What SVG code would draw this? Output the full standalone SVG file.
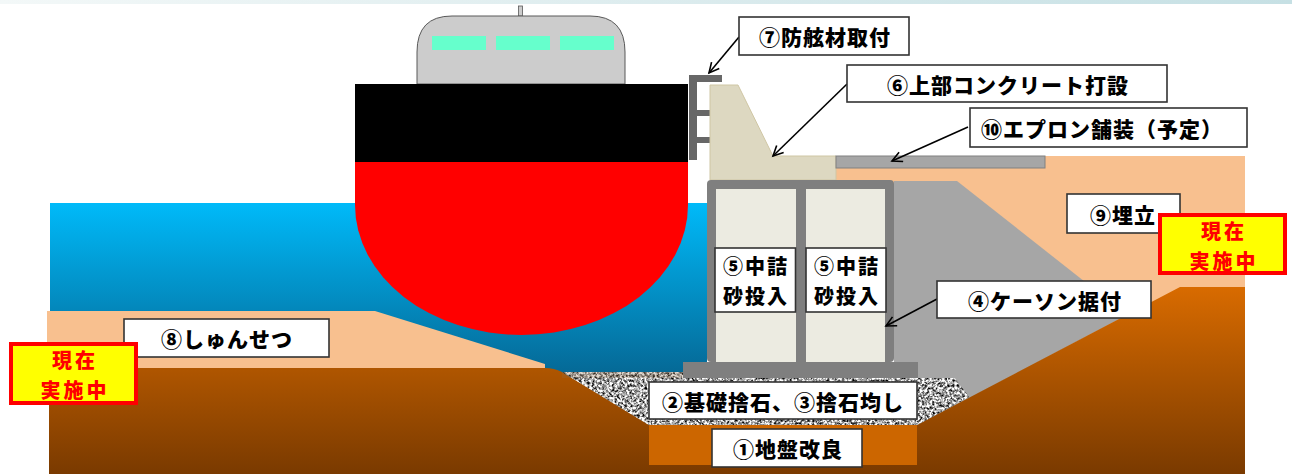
<svg xmlns="http://www.w3.org/2000/svg" width="1292" height="474" viewBox="0 0 1292 474">
<defs>
  <linearGradient id="band" x1="0" y1="0" x2="1" y2="0">
    <stop offset="0" stop-color="#f3f8f8"/>
    <stop offset="1" stop-color="#c6e0e4"/>
  </linearGradient>
  <linearGradient id="sea" gradientUnits="userSpaceOnUse" x1="0" y1="203" x2="0" y2="375">
    <stop offset="0" stop-color="#00baf9"/>
    <stop offset="1" stop-color="#056895"/>
  </linearGradient>
  <linearGradient id="earth" gradientUnits="userSpaceOnUse" x1="0" y1="287" x2="0" y2="474">
    <stop offset="0" stop-color="#d86b00"/>
    <stop offset="1" stop-color="#7a3a00"/>
  </linearGradient>
  <!-- speckled gravel texture for the rubble mound -->
  <filter id="grain" x="0" y="0" width="1" height="1" color-interpolation-filters="sRGB">
    <feTurbulence type="fractalNoise" baseFrequency="0.4" numOctaves="3" seed="7" result="n"/>
    <feColorMatrix in="n" type="matrix" values="2.3 0 0 0 -0.5  2.3 0 0 0 -0.5  2.3 0 0 0 -0.5  0 0 0 0 1" result="g"/>
    <feComposite in="g" in2="SourceGraphic" operator="in"/>
  </filter>
  <marker id="arr" markerUnits="userSpaceOnUse" markerWidth="14" markerHeight="14" refX="11" refY="6" orient="auto">
    <path d="M1,1 L11,6 L1,11" fill="none" stroke="#000" stroke-width="1.6"/>
  </marker>
  <style>
    .box{fill:#fff;stroke:#333;stroke-width:1.6}
    .lbl{font-family:"Noto Sans CJK JP","Noto Sans",sans-serif;font-weight:900;font-size:21px;letter-spacing:1px;fill:#000;text-anchor:middle;dominant-baseline:central}
    .lbl2{font-size:20px;letter-spacing:2px}
    .now{fill:#ff0;stroke:#f00;stroke-width:4}
    .nowt{font-family:"Noto Sans CJK JP","Noto Sans",sans-serif;font-weight:900;font-size:20px;letter-spacing:3px;fill:#f00;text-anchor:middle;dominant-baseline:central}
    .lead{stroke:#000;stroke-width:1.6;fill:none;marker-end:url(#arr)}
    .steel{fill:#7f7f7f}
    .cell{fill:#ecebe1}
    .fender{fill:#676767}
  </style>
</defs>

<rect x="0" y="0" width="1292" height="4" fill="url(#band)"/>

<!-- ground and water -->
<g id="sea-area">
  <rect x="50" y="203" width="657" height="175" fill="url(#sea)"/>
</g>
<g id="reclaim-fill">
  <rect x="836" y="156" width="409" height="180" fill="#f8c08f"/>
</g>
<g id="backfill">
  <path d="M894,181 H957 L1127,315 L917,426 H894 Z" fill="#a6a6a6"/>
</g>
<g id="dredge-layer">
  <path d="M47,311 H375 L545,364 V368 H47 Z" fill="#f8c08f"/>
</g>
<g id="seabed">
  <path d="M49,368 H545 Q554,368 562,372 L649,425 H917 L1180,287 H1245 V474 H49 Z" fill="url(#earth)"/>
</g>
<g id="rubble">
  <path d="M562,372 H683 V378 H955 L969,397 L917,425 H649 Z" fill="#b0b0b0" filter="url(#grain)"/>
  <rect x="562" y="372" width="121" height="6" fill="#8a6a48" opacity="0.25"/>
</g>
<g id="ground-improvement">
  <rect x="649" y="425" width="268" height="40" fill="#cc6600"/>
</g>

<!-- vessel -->
<g id="ship">
  <rect x="518.5" y="6" width="4" height="10" fill="#ccc" stroke="#595959" stroke-width="0.8"/>
  <path d="M417,84 V52 Q417,16 452,16 H590 Q625,16 625,52 V84 Z" fill="#ccc" stroke="#595959" stroke-width="1"/>
  <rect x="432" y="36" width="54" height="14" fill="#66ffcc"/>
  <rect x="496" y="36" width="54" height="14" fill="#66ffcc"/>
  <rect x="560" y="36" width="54" height="14" fill="#66ffcc"/>
  <rect x="355" y="84" width="333" height="78" fill="#000"/>
  <path d="M355,162 H688 V205 A166.5,130 0 0 1 355,205 Z" fill="#f00"/>
</g>

<!-- quay wall -->
<g id="fender">
  <rect class="fender" x="689" y="75" width="8" height="85"/>
  <rect class="fender" x="689" y="75" width="33" height="7"/>
  <rect class="fender" x="697" y="110" width="14" height="6"/>
  <rect class="fender" x="697" y="137" width="14" height="6"/>
</g>
<g id="upper-concrete">
  <path d="M710,85 H738 L773,156 H836 V180 H710 Z" fill="#ddd8c1" stroke="#cfc6a4" stroke-width="1"/>
</g>
<g id="apron">
  <rect x="836" y="156" width="209" height="12" fill="#a6a6a6" stroke="#808080" stroke-width="1"/>
</g>
<g id="caisson">
  <rect class="steel" x="707" y="180" width="187" height="182" rx="4"/>
  <rect class="cell" x="716" y="189" width="80" height="173"/>
  <rect class="cell" x="806" y="189" width="79" height="173"/>
  <rect class="steel" x="683" y="362" width="235" height="16"/>
</g>

<!-- leader lines -->
<g id="connectors">
  <path class="lead" d="M739,37 L709,73"/>
  <path class="lead" d="M847,84 L773,156"/>
  <path class="lead" d="M968,127 L892,161"/>
  <path class="lead" d="M937,299 L886,326"/>
</g>

<!-- work-item labels -->
<g id="label-7">
  <rect class="box" x="739" y="17" width="170" height="38"/>
  <text class="lbl" x="825" y="36">⑦防舷材取付</text>
</g>
<g id="label-6">
  <rect class="box" x="847" y="65" width="320" height="37"/>
  <text class="lbl" x="1008" y="83.5">⑥上部コンクリート打設</text>
</g>
<g id="label-10">
  <rect class="box" x="970" y="108" width="277" height="39"/>
  <text class="lbl" x="1102" y="127.5">⑩エプロン舗装（予定）</text>
</g>
<g id="label-9">
  <rect class="box" x="1067" y="194" width="113" height="39"/>
  <text class="lbl" x="1123" y="213.5">⑨埋立</text>
</g>
<g id="status-right">
  <rect class="now" x="1160" y="215" width="125" height="58"/>
  <text class="nowt" x="1224" y="230">現在</text>
  <text class="nowt" x="1224" y="260">実施中</text>
</g>
<g id="label-8">
  <rect class="box" x="124" y="319" width="205" height="38"/>
  <text class="lbl" x="227" y="338">⑧しゅんせつ</text>
</g>
<g id="status-left">
  <rect class="now" x="11" y="344" width="125" height="59"/>
  <text class="nowt" x="75" y="359">現在</text>
  <text class="nowt" x="75" y="389">実施中</text>
</g>
<g id="label-5a">
  <rect class="box" x="715" y="248" width="80.5" height="64"/>
  <text class="lbl lbl2" x="756" y="265.5">⑤中詰</text>
  <text class="lbl lbl2" x="756" y="295.5">砂投入</text>
</g>
<g id="label-5b">
  <rect class="box" x="806" y="248" width="80" height="64"/>
  <text class="lbl lbl2" x="847" y="265.5">⑤中詰</text>
  <text class="lbl lbl2" x="847" y="295.5">砂投入</text>
</g>
<g id="label-4">
  <rect class="box" x="937" y="281" width="214" height="37"/>
  <text class="lbl" x="1045" y="299.5">④ケーソン据付</text>
</g>
<g id="label-2-3">
  <rect class="box" x="649" y="382" width="268" height="37"/>
  <text class="lbl" x="783" y="400.5">②基礎捨石、③捨石均し</text>
</g>
<g id="label-1">
  <rect class="box" x="712" y="429" width="150" height="38"/>
  <text class="lbl" x="788" y="448">①地盤改良</text>
</g>
</svg>
